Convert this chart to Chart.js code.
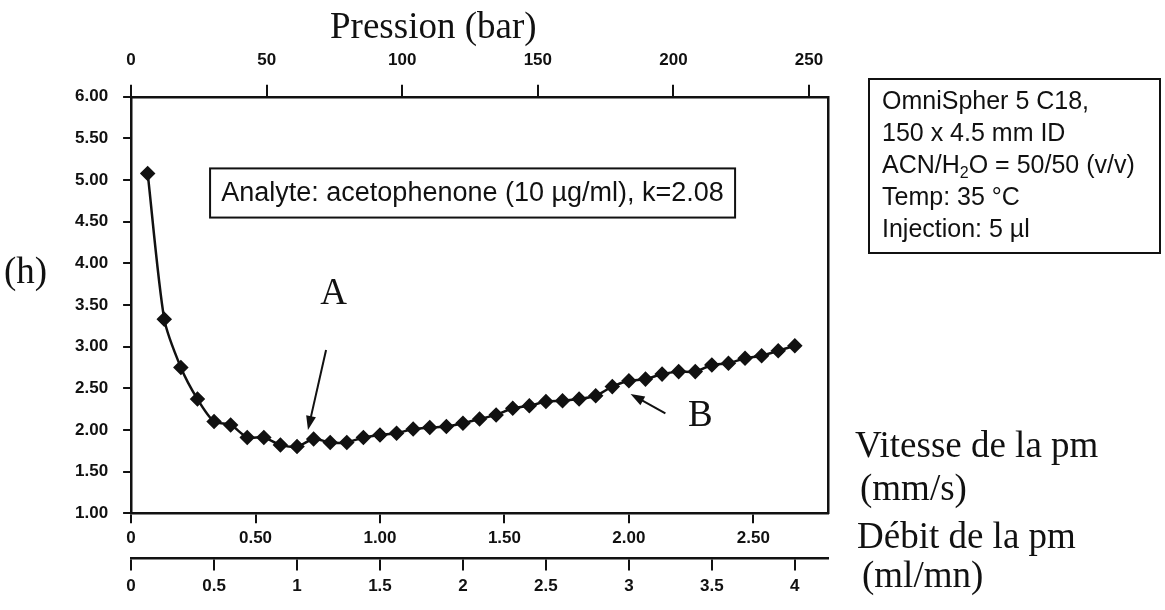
<!DOCTYPE html>
<html>
<head>
<meta charset="utf-8">
<script src="https://cdn.jsdelivr.net/npm/chart.js@4.4.1/dist/chart.umd.min.js"></script>
<style>
  body { margin: 0; background: #fff; }
  #wrap { position: relative; width: 1165px; height: 610px; }
  .serif { position: absolute; font-family: "Liberation Serif", "Times New Roman", serif; font-size: 37px; line-height: 1; color: #111; white-space: nowrap; }
  #info { position: absolute; left: 868px; top: 78px; width: 293px; height: 176px; box-sizing: border-box;
          border: 2px solid #111; padding: 4px 0 0 12px; color: #111;
          font-family: "Liberation Sans", Arial, sans-serif; font-size: 25px; line-height: 32px; white-space: nowrap; }
  #info sub { font-size: 16px; line-height: 0; vertical-align: -5px; }
</style>
</head>
<body>
<div id="wrap">
  <canvas id="myChart" width="1165" height="610"></canvas>
  <div class="serif" style="left:4px; top:252px;">(h)</div>
  <div class="serif" style="left:855px; top:426px;">Vitesse de la pm</div>
  <div class="serif" style="left:860px; top:469px;">(mm/s)</div>
  <div class="serif" style="left:857px; top:517px;">Débit de la pm</div>
  <div class="serif" style="left:862px; top:556px;">(ml/mn)</div>
  <div id="info">
    OmniSpher 5 C18,<br>
    150 x 4.5 mm ID<br>
    ACN/H<sub>2</sub>O = 50/50 (v/v)<br>
    Temp: 35 °C<br>
    Injection: 5 µl
  </div>
</div>
<script>
// débit de la phase mobile (ml/mn) and plate height (h)
var debit = [0.1, 0.2, 0.3, 0.4, 0.5, 0.6, 0.7, 0.8, 0.9, 1.0,
             1.1, 1.2, 1.3, 1.4, 1.5, 1.6, 1.7, 1.8, 1.9, 2.0,
             2.1, 2.2, 2.3, 2.4, 2.5, 2.6, 2.7, 2.8, 2.9, 3.0,
             3.1, 3.2, 3.3, 3.4, 3.5, 3.6, 3.7, 3.8, 3.9, 4.0];
var hauteur = [5.08, 3.33, 2.75, 2.37, 2.10, 2.06, 1.91, 1.91, 1.82, 1.80,
               1.89, 1.85, 1.85, 1.91, 1.94, 1.96, 2.01, 2.03, 2.04, 2.08,
               2.13, 2.18, 2.26, 2.29, 2.34, 2.35, 2.37, 2.41, 2.52, 2.59,
               2.61, 2.67, 2.70, 2.70, 2.78, 2.80, 2.86, 2.89, 2.95, 3.01];

// axis ranges
var debitMax = 4.2;
var vitesseMax = 2.8;
var pressionMax = 257;

var sans = '"Liberation Sans", Arial, sans-serif';
var serif = '"Liberation Serif", "Times New Roman", serif';
var ink = '#111';

// annotations, in data units (débit, h)
var labelA = { x: 1.22, y: 3.63 };
var arrowA = { x1: 1.175, y1: 2.96, x2: 1.066, y2: 2.00 };
var labelB = { x: 3.43, y: 2.16 };
var arrowB = { x1: 3.22, y1: 2.20, x2: 3.01, y2: 2.43 };
var analyteBox = { x1: 0.476, x2: 3.64, y1: 5.14, y2: 4.55 };

function arrow(ctx, x1, y1, x2, y2) {
  var a = Math.atan2(y2 - y1, x2 - x1);
  ctx.beginPath();
  ctx.moveTo(x1, y1);
  ctx.lineTo(x2 - 8 * Math.cos(a), y2 - 8 * Math.sin(a));
  ctx.stroke();
  ctx.beginPath();
  ctx.moveTo(x2, y2);
  ctx.lineTo(x2 - 14 * Math.cos(a) + 5 * Math.sin(a), y2 - 14 * Math.sin(a) - 5 * Math.cos(a));
  ctx.lineTo(x2 - 14 * Math.cos(a) - 5 * Math.sin(a), y2 - 14 * Math.sin(a) + 5 * Math.cos(a));
  ctx.closePath();
  ctx.fill();
}

var annotations = {
  id: 'annotations',
  afterDatasetsDraw: function (chart) {
    var ctx = chart.ctx;
    var x = chart.scales.xd, y = chart.scales.y;
    ctx.save();
    ctx.fillStyle = ink;
    ctx.strokeStyle = ink;
    ctx.lineWidth = 2;

    // analyte box
    var bx1 = x.getPixelForValue(analyteBox.x1), bx2 = x.getPixelForValue(analyteBox.x2);
    var by1 = y.getPixelForValue(analyteBox.y1), by2 = y.getPixelForValue(analyteBox.y2);
    ctx.strokeRect(bx1, by1, bx2 - bx1, by2 - by1);
    ctx.font = '27px ' + sans;
    ctx.textAlign = 'center';
    ctx.textBaseline = 'middle';
    ctx.fillText('Analyte: acetophenone (10 µg/ml), k=2.08', (bx1 + bx2) / 2, (by1 + by2) / 2 + 1);

    // A and B
    ctx.font = '37px ' + serif;
    ctx.fillText('A', x.getPixelForValue(labelA.x), y.getPixelForValue(labelA.y));
    ctx.fillText('B', x.getPixelForValue(labelB.x), y.getPixelForValue(labelB.y));
    arrow(ctx, x.getPixelForValue(arrowA.x1), y.getPixelForValue(arrowA.y1),
               x.getPixelForValue(arrowA.x2), y.getPixelForValue(arrowA.y2));
    arrow(ctx, x.getPixelForValue(arrowB.x1), y.getPixelForValue(arrowB.y1),
               x.getPixelForValue(arrowB.x2), y.getPixelForValue(arrowB.y2));
    ctx.restore();
  }
};

function axisGrid(len) {
  return { drawOnChartArea: false, color: ink, lineWidth: 2, tickLength: len };
}
var axisBorder = { color: ink, width: 2.5 };
var tickFont = { family: sans, size: 17, weight: 'bold' };

var ctx = document.getElementById('myChart').getContext('2d');
var myChart = new Chart(ctx, {
  type: 'line',
  data: {
    datasets: [{
      label: 'h',
      data: debit.map(function (d, i) { return { x: d, y: hauteur[i] }; }),
      xAxisID: 'xd',
      yAxisID: 'y',
      borderColor: ink,
      backgroundColor: ink,
      borderWidth: 2.5,
      tension: 0.25,
      pointStyle: 'rectRot',
      pointRadius: 6,
      pointBackgroundColor: ink,
      pointBorderColor: ink
    }]
  },
  options: {
    responsive: false,
    animation: false,
    layout: { padding: { left: 60, right: 337, top: 2, bottom: 7 } },
    plugins: { legend: { display: false }, tooltip: { enabled: false } },
    scales: {
      y: {
        position: 'left',
        min: 1, max: 6,
        grid: axisGrid(8),
        border: axisBorder,
        ticks: {
          stepSize: 0.5, padding: 15, color: ink,
          font: { family: sans, size: 17, weight: 'bold' },
          callback: function (v) { return v.toFixed(2); }
        }
      },
      y2: {
        position: 'right',
        min: 1, max: 6,
        grid: { display: false, drawTicks: false },
        border: axisBorder,
        ticks: { display: false }
      },
      xp: {
        type: 'linear',
        position: 'top',
        min: 0, max: pressionMax,
        grid: axisGrid(12),
        border: axisBorder,
        title: {
          display: true,
          text: 'Pression (bar)' + '          ',
          color: ink,
          font: { family: serif, size: 37 },
          padding: { top: 4, bottom: 4 }
        },
        ticks: { stepSize: 50, includeBounds: false, autoSkip: false, maxRotation: 0, padding: 14, color: ink, font: tickFont },
        afterFit: function (s) { s.height -= 18; }
      },
      xv: {
        type: 'linear',
        position: 'bottom',
        weight: 0,
        min: 0, max: vitesseMax,
        grid: axisGrid(10),
        border: axisBorder,
        ticks: {
          stepSize: 0.5, includeBounds: false, autoSkip: false, maxRotation: 0, padding: 5, color: ink, font: tickFont,
          callback: function (v) { return v === 0 ? '0' : v.toFixed(2); }
        },
        afterFit: function (s) { s.height += 5; }
      },
      xd: {
        type: 'linear',
        position: 'bottom',
        weight: 1,
        min: 0, max: debitMax,
        grid: axisGrid(12),
        border: axisBorder,
        ticks: {
          stepSize: 0.5, includeBounds: false, autoSkip: false, maxRotation: 0, padding: 6, color: ink, font: tickFont,
          callback: function (v) { return String(v); }
        }
      }
    }
  },
  plugins: [annotations]
});
</script>
</body>
</html>
